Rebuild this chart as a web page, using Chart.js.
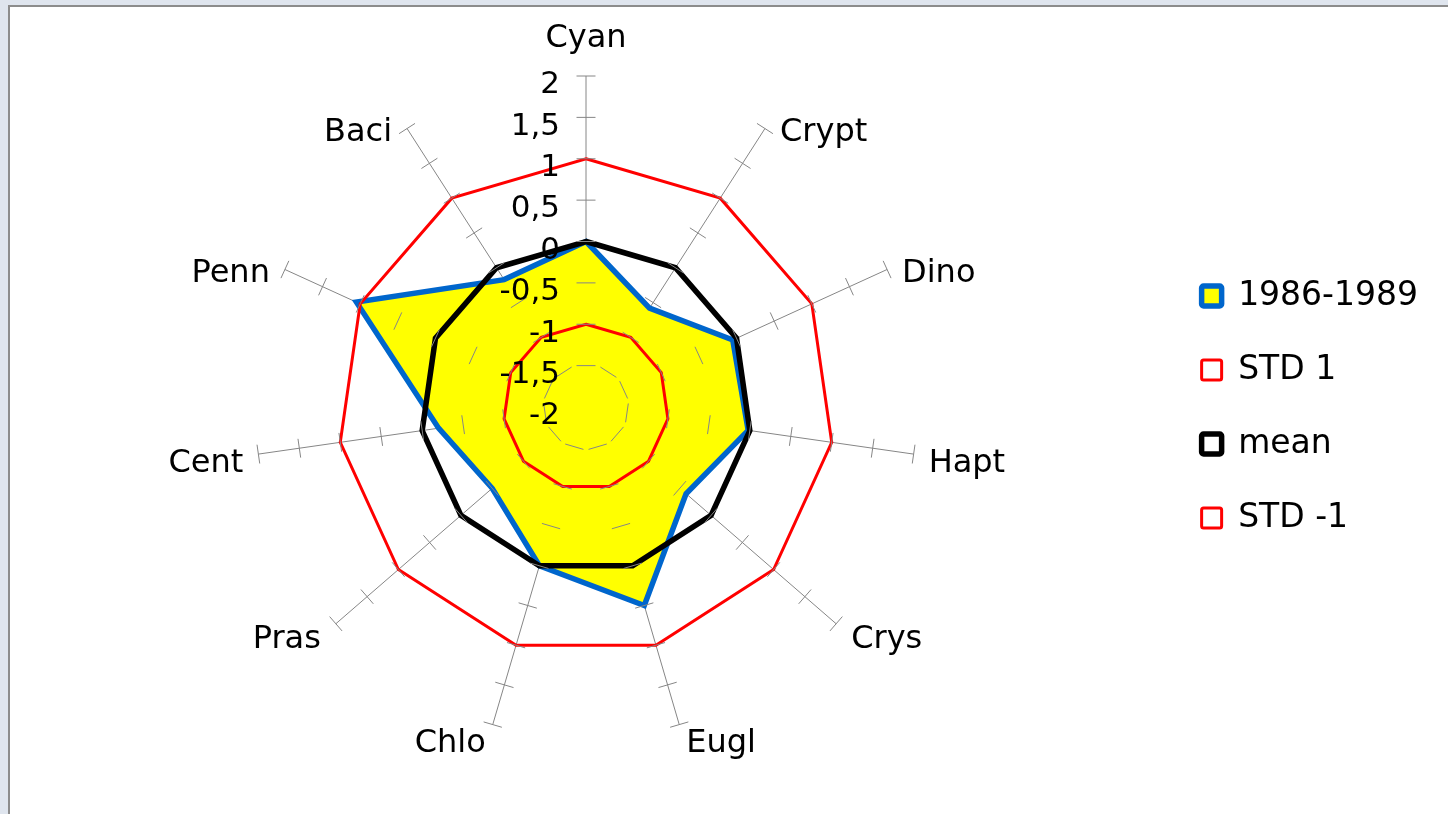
<!DOCTYPE html>
<html>
<head>
<meta charset="utf-8">
<script src="https://cdn.jsdelivr.net/npm/chart.js@4.4.1/dist/chart.umd.min.js"></script>
<style>
  html, body { margin: 0; padding: 0; background: #dfe5ee; overflow: hidden; }
  #frame { position: absolute; left: 8px; top: 5px; width: 1460px; height: 830px;
           background: #fff; border-left: 2px solid #8c8c8c; border-top: 2px solid #8c8c8c; }
  #wrap { position: absolute; left: 0; top: 0; width: 1448px; height: 814px; }
</style>
</head>
<body>
<div id="frame"></div>
<div id="wrap"><canvas id="radar" width="1448" height="814"></canvas></div>
<script>
// algae groups on the spokes, clockwise from the top
const categories = ["Cyan","Crypt","Dino","Hapt","Crys","Eugl","Chlo","Pras","Cent","Penn","Baci"];

// standardised anomalies
const period1986 = [0, -0.58, -0.05, -0.02, -0.4, 0.5, 0, -0.5, -0.2, 1.05, -0.17];
const std1      = [1, 1, 1, 1, 1, 1, 1, 1, 1, 1, 1];
const meanLine  = [0, 0, 0, 0, 0, 0, 0, 0, 0, 0, 0];
const stdMinus1 = [-1, -1, -1, -1, -1, -1, -1, -1, -1, -1, -1];

const seriesNames = ["1986-1989", "STD 1", "mean", "STD -1"];
const axisMin = -2, axisMax = 2, axisStep = 0.5;

const FONT = "'DejaVu Sans', sans-serif";
const axisGrey = '#868686';
const labelSize = 32;
const tickSize = 31;

// cross marks on every spoke, value labels left of the top spoke,
// and the group names just outside the spoke ends
const spokeTicks = {
  id: 'spokeTicks',
  afterDraw(chart) {
    const scale = chart.scales.r;
    const ctx = chart.ctx;
    ctx.save();
    ctx.strokeStyle = axisGrey;
    ctx.lineWidth = 1;
    scale.ticks.forEach(t => {
      if (t.value === scale.min) return;
      for (let i = 0; i < categories.length; i++) {
        const p = scale.getPointPositionForValue(i, t.value);
        const a = scale.getIndexAngle(i);
        const dx = Math.cos(a) * 9.5, dy = Math.sin(a) * 9.5;
        ctx.beginPath();
        ctx.moveTo(p.x - dx, p.y - dy);
        ctx.lineTo(p.x + dx, p.y + dy);
        ctx.stroke();
      }
    });

    ctx.fillStyle = '#000';
    ctx.textBaseline = 'alphabetic';
    ctx.font = tickSize + 'px ' + FONT;
    ctx.textAlign = 'right';
    scale.ticks.forEach(t => {
      const d = scale.getDistanceFromCenterForValue(t.value);
      const txt = String(t.value).replace('.', ',');
      ctx.fillText(txt, scale.xCenter - 26, scale.yCenter - d + 6 + 0.365 * tickSize);
    });

    ctx.font = labelSize + 'px ' + FONT;
    categories.forEach((name, i) => {
      const end = scale.getPointPosition(i, scale.drawingArea);
      const a = scale.getIndexAngle(i);
      const ux = Math.sin(a), uy = -Math.cos(a);
      let x = end.x, cy;
      if (Math.abs(ux) < 0.05) {
        ctx.textAlign = 'center';
        cy = end.y - 41;
      } else {
        const gap = Math.abs(ux) > 0.5 ? 15 : 7;
        ctx.textAlign = ux > 0 ? 'left' : 'right';
        x = end.x + (ux > 0 ? gap : -gap);
        cy = end.y + (uy > 0 ? 4 + 12.5 * uy : 1);
      }
      ctx.fillText(name, x, cy + 0.365 * labelSize);
    });
    ctx.restore();
  }
};

new Chart(document.getElementById('radar'), {
  type: 'radar',
  data: {
    labels: categories,
    datasets: [
      { label: seriesNames[0], data: period1986, order: 3,
        backgroundColor: '#ffff00', borderColor: '#0066cc', borderWidth: 5.5, fill: 'start' },
      { label: seriesNames[1], data: std1, order: 2,
        backgroundColor: 'rgba(255,255,255,0)', borderColor: '#ff0000', borderWidth: 3, fill: false },
      { label: seriesNames[2], data: meanLine, order: 1,
        backgroundColor: 'rgba(255,255,255,0)', borderColor: '#000000', borderWidth: 5.5, fill: false },
      { label: seriesNames[3], data: stdMinus1, order: 0,
        backgroundColor: 'rgba(255,255,255,0)', borderColor: '#ff0000', borderWidth: 3, fill: false }
    ]
  },
  options: {
    responsive: false,
    animation: false,
    layout: { padding: { top: 76, bottom: 76, left: 13, right: 20 } },
    elements: { point: { radius: 0, hoverRadius: 0 }, line: { tension: 0 } },
    plugins: {
      tooltip: { enabled: false },
      legend: {
        position: 'right',
        labels: {
          boxWidth: 20, boxHeight: 20, padding: 41, color: '#000',
          font: { family: FONT, size: 33 },
          useBorderRadius: true, borderRadius: 2,
          sort: (a, b) => a.datasetIndex - b.datasetIndex
        }
      }
    },
    scales: {
      r: {
        z: 1,
        min: axisMin, max: axisMax,
        ticks: { stepSize: axisStep, display: false },
        grid: { display: false },
        angleLines: { display: true, color: axisGrey, lineWidth: 1 },
        pointLabels: { display: false }
      }
    }
  },
  plugins: [spokeTicks]
});
</script>
</body>
</html>
